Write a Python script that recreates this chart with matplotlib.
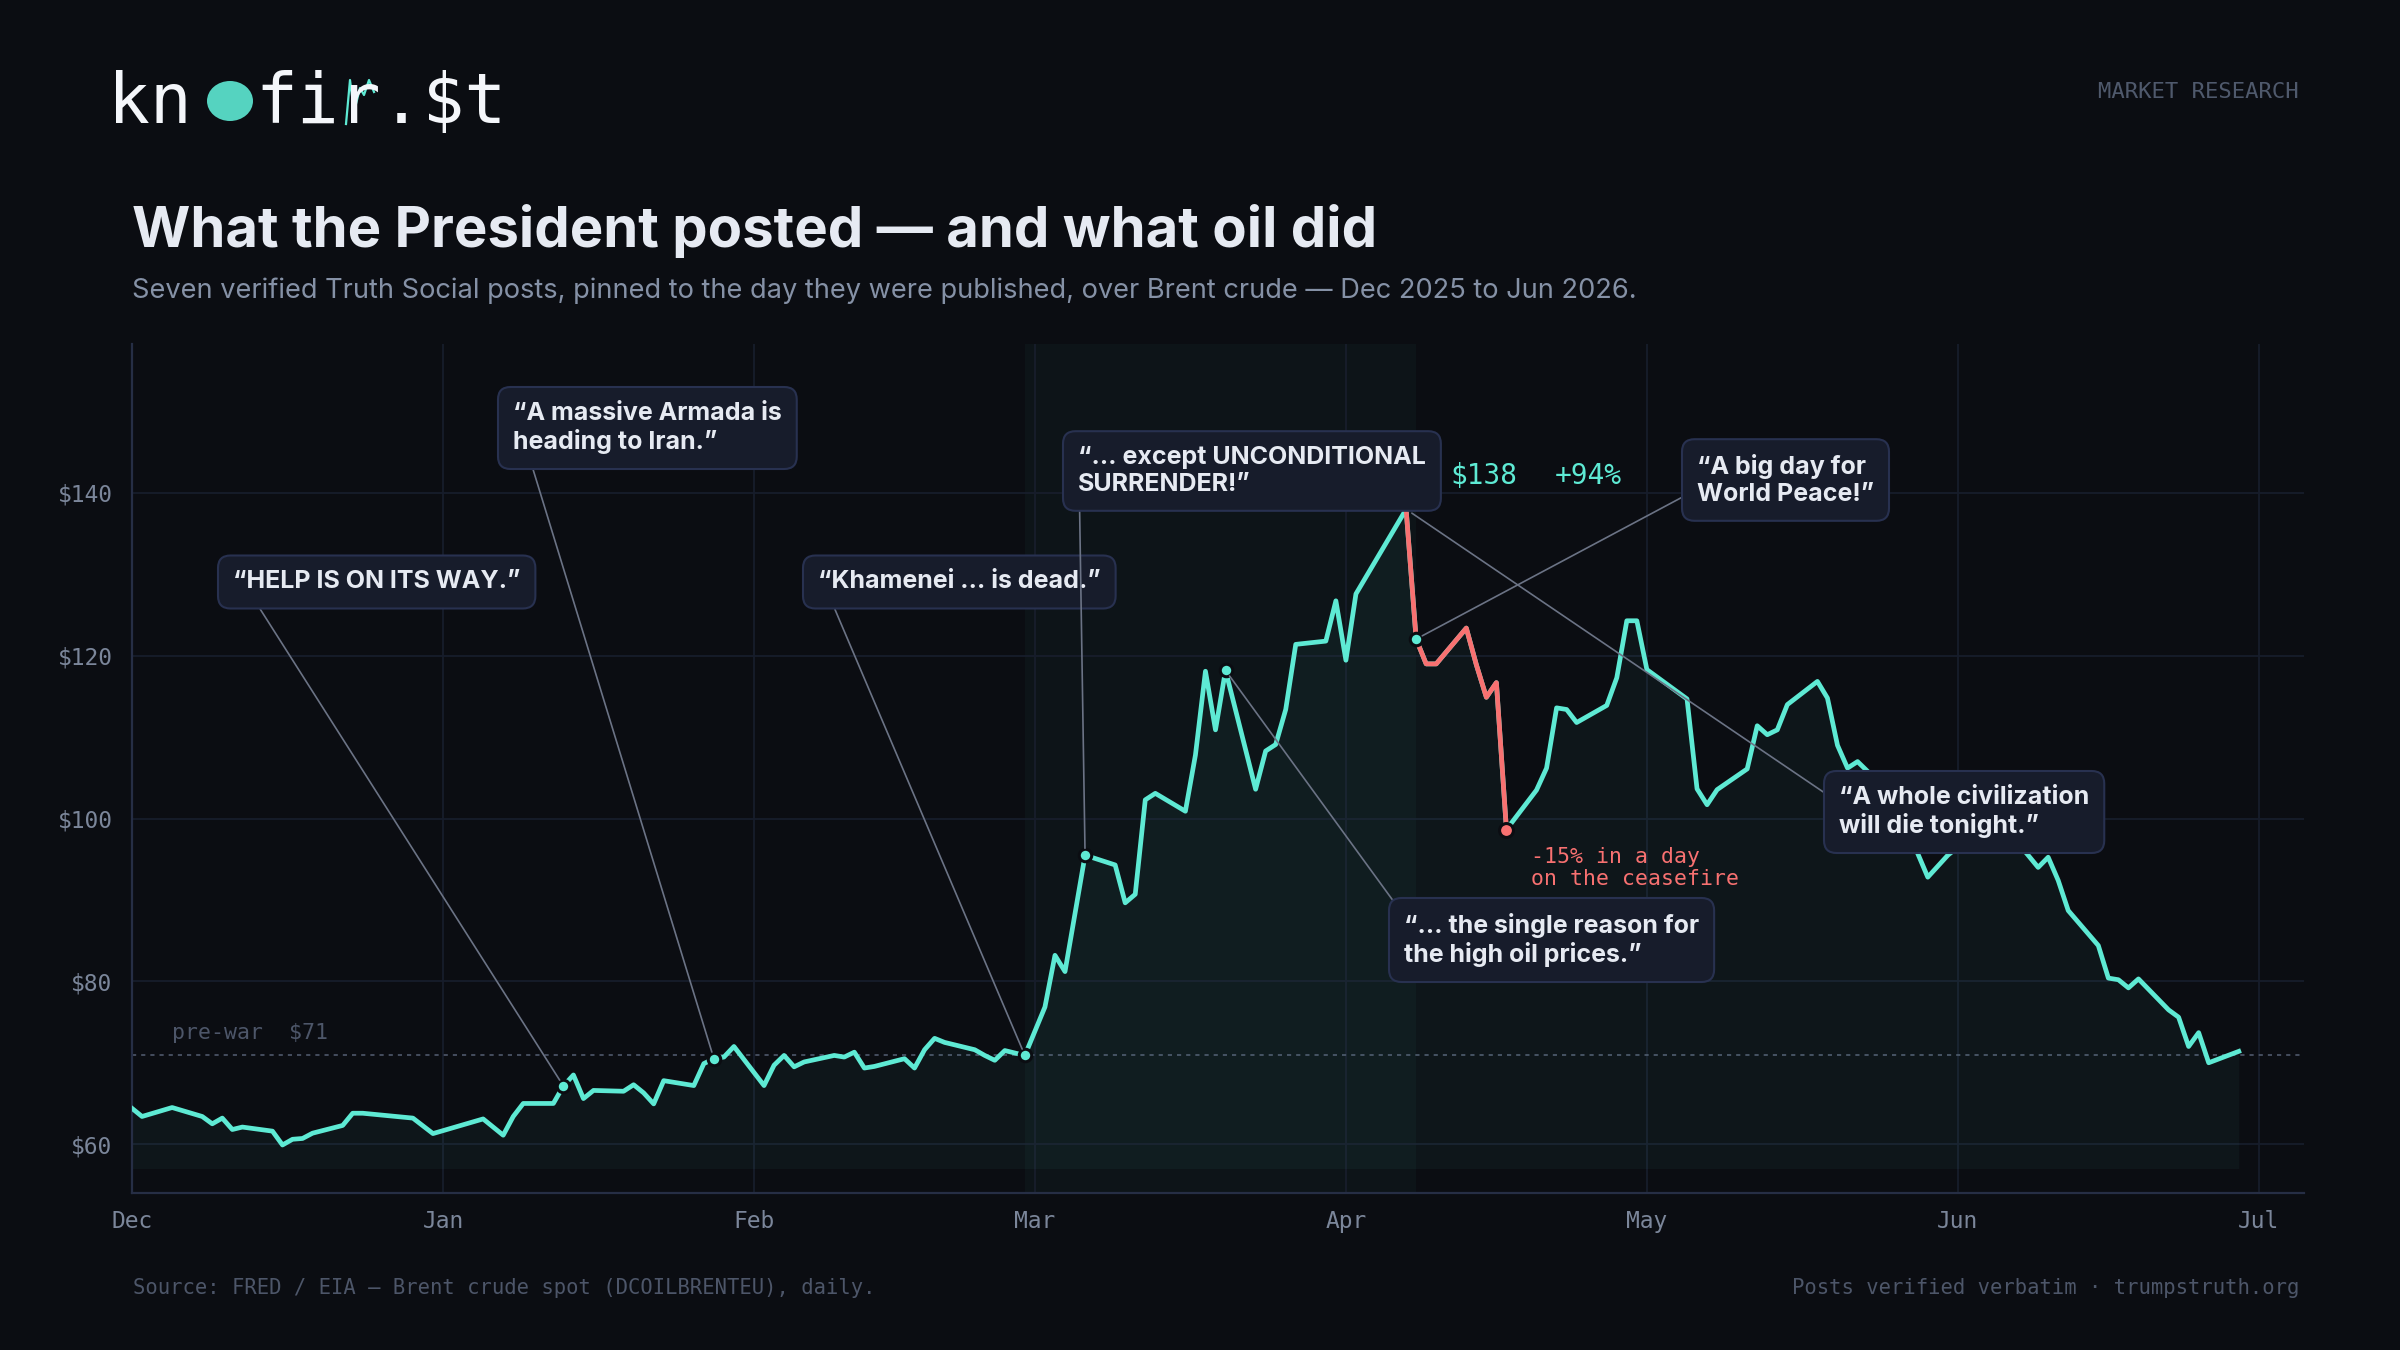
import matplotlib
matplotlib.use("Agg")
import matplotlib.pyplot as plt
from matplotlib.patches import Ellipse
import pandas as pd

# ---------------- data ----------------
start_date = "2025-12-01"
day_offsets = [0, 1, 4, 7, 8, 9, 10, 11, 14, 15, 16, 17, 18, 21, 22, 23, 28, 30, 35, 37,
               38, 39, 42, 43, 44, 45, 46, 49, 50, 51, 52, 53, 56, 57, 58, 59, 60, 63, 64, 65,
               66, 67, 70, 71, 72, 73, 74, 77, 78, 79, 80, 81, 84, 85, 86, 87, 88, 89, 91, 92,
               93, 95, 98, 99, 100, 101, 102, 105, 106, 107, 108, 109, 112, 113, 114, 115, 116, 119, 120, 121,
               122, 127, 128, 129, 130, 133, 134, 135, 136, 137, 140, 141, 142, 143, 144, 147, 148, 149, 150, 151,
               155, 156, 157, 158, 161, 162, 163, 164, 165, 168, 169, 170, 171, 172, 173, 176, 177, 178, 179, 181,
               184, 185, 186, 188, 189, 190, 191, 192, 193, 196, 197, 198, 199, 200, 203, 204, 205, 206, 207, 210]
brent = [64.4, 63.4, 64.5, 63.4, 62.5, 63.2, 61.8, 62.1, 61.6, 59.9, 60.6, 60.7, 61.35, 62.3, 63.8, 63.8, 63.2, 61.3, 63.1, 61.1,
         63.4, 65.0, 65.0, 67.15, 68.5, 65.6, 66.6, 66.5, 67.3, 66.3, 64.95, 67.8, 67.2, 69.9, 70.5, 70.7, 72.0, 67.2, 69.7, 70.9,
         69.5, 70.1, 70.9, 70.7, 71.3, 69.35, 69.55, 70.5, 69.35, 71.6, 73.0, 72.5, 71.6, 70.9, 70.3, 71.5, 71.2, 70.9, 76.85, 83.2,
         81.2, 95.5, 94.3, 89.65, 90.7, 102.3, 103.1, 100.9, 107.8, 118.1, 110.9, 118.2, 103.6, 108.3, 109.1, 113.4, 121.4, 121.8, 126.75, 119.45,
         127.6, 138.0, 122.05, 119.0, 119.0, 123.4, 118.9, 114.9, 116.7, 98.65, 103.5, 106.2, 113.6, 113.4, 111.8, 113.9, 117.3, 124.3, 124.3, 118.3,
         114.7, 103.65, 101.7, 103.55, 106.1, 111.4, 110.3, 110.9, 114.0, 116.85, 114.8, 109.0, 106.2, 107.0, 105.8, 101.5, 99.0, 95.7, 92.8, 95.5,
         98.5, 99.5, 98.0, 97.0, 95.5, 94.0, 95.25, 92.4, 88.7, 84.4, 80.4, 80.2, 79.2, 80.3, 76.5, 75.6, 72.0, 73.7, 70.0, 71.4]

prewar_price = 71
war_start, war_end = "2026-02-28", "2026-04-08"
crash_start, crash_end = "2026-04-07", "2026-04-17"
peak_label = "$138"
peak_change = "+94%"
crash_label = "-15% in a day\non the ceasefire"

post_dates = ["2026-01-13", "2026-01-28", "2026-02-28", "2026-03-06", "2026-03-20", "2026-04-08", "2026-04-07"]
post_texts = ["\u201cHELP IS ON ITS WAY.\u201d",
              "\u201cA massive Armada is\nheading to Iran.\u201d",
              "\u201cKhamenei \u2026 is dead.\u201d",
              "\u201c\u2026 except UNCONDITIONAL\nSURRENDER!\u201d",
              "\u201c\u2026 the single reason for\nthe high oil prices.\u201d",
              "\u201cA big day for\nWorld Peace!\u201d",
              "\u201cA whole civilization\nwill die tonight.\u201d"]
post_dot_shown = [True, True, True, True, True, True, False]

month_ticks = ["2025-12-01", "2026-01-01", "2026-02-01", "2026-03-01", "2026-04-01",
               "2026-05-01", "2026-06-01", "2026-07-01"]
month_labels = ["Dec", "Jan", "Feb", "Mar", "Apr", "May", "Jun", "Jul"]
price_ticks = [60, 80, 100, 120, 140]
price_labels = ["$60", "$80", "$100", "$120", "$140"]

# ---------------- styling ----------------
BG = "#0b0d12"
GRID = "#171d2b"
SPINE = "#262e45"
TEAL = "#5eead4"
RED = "#f87171"
BOX_FC = "#171c2b"
BOX_EC = "#283150"
WHITE = "#e6eaf2"
MUTED = "#8591a6"
TICK = "#7b869a"
DIM = "#4d5669"
LEADER = "#6b7385"
SANS = ["Inter", "DejaVu Sans"]
MONO = ["DejaVu Sans Mono"]

W, H = 2400, 1350
def fx(px):
    return px / W
def fy(py):
    return 1 - py / H

dates = pd.Timestamp(start_date) + pd.to_timedelta(day_offsets, unit="D")
series = pd.Series(brent, index=dates)

fig = plt.figure(figsize=(24, 13.5), dpi=100, facecolor=BG)
ax = fig.add_axes([fx(132), fy(1193), fx(2304) - fx(132), fy(344) - fy(1193)])
ax.set_facecolor(BG)

x0 = pd.Timestamp(start_date)
ax.set_xlim(x0, x0 + pd.Timedelta(days=216.5))
ax.set_ylim(54.0, 158.3)

ax.set_yticks(price_ticks)
ax.set_yticklabels(price_labels, family=MONO, fontsize=16.5, color=TICK)
ax.set_xticks(pd.to_datetime(month_ticks))
ax.set_xticklabels(month_labels, family=MONO, fontsize=16.5, color=TICK)
ax.tick_params(axis="both", length=0)
ax.tick_params(axis="y", pad=14)
ax.tick_params(axis="x", pad=12)
ax.grid(True, color=GRID, lw=1.3, zorder=0)
ax.set_axisbelow(True)
for s in ["top", "right"]:
    ax.spines[s].set_visible(False)
for s in ["left", "bottom"]:
    ax.spines[s].set_color(SPINE)
    ax.spines[s].set_linewidth(1.6)

# war shading
ax.axvspan(pd.Timestamp(war_start), pd.Timestamp(war_end), color=TEAL, alpha=0.035, lw=0, zorder=0.5)

# pre-war line
ax.axhline(prewar_price, color="#4f586b", lw=1.2, ls=(0, (2.5, 3)), zorder=1)
ax.text(x0 + pd.Timedelta(days=4), prewar_price + 2.6, "pre-war  $" + str(prewar_price),
        family=MONO, fontsize=15.5, color=DIM, va="center", ha="left")

# area + line
ax.fill_between(series.index, series.values, 57, color=TEAL, alpha=0.045, lw=0, zorder=1)
ax.plot(series.index, series.values, color=TEAL, lw=3.4, zorder=3)
crash = series[pd.Timestamp(crash_start):pd.Timestamp(crash_end)]
ax.plot(crash.index, crash.values, color=RED, lw=3.4, zorder=3.5)

# post dots
for d, shown in zip(post_dates, post_dot_shown):
    if shown:
        t = pd.Timestamp(d)
        ax.plot([t], [series[t]], "o", ms=9, mfc=TEAL, mec=BG, mew=2.2, zorder=5)
ax.plot([pd.Timestamp(crash_end)], [series[pd.Timestamp(crash_end)]], "o", ms=10, mfc=RED, mec=BG, mew=2.2, zorder=5)

# peak / crash labels
fig.text(fx(1450), fy(476), peak_label, family=MONO, fontsize=20, color=TEAL, va="center", ha="left")
fig.text(fx(1555), fy(476), peak_change, family=MONO, fontsize=20, color=TEAL, va="center", ha="left")
fig.text(fx(1531), fy(868), crash_label, family=MONO, fontsize=15.5, color=RED, va="center", ha="left",
         linespacing=1.1)

# callouts: text left x, center y (px), leader relpos (relative to text extent)
callout_layout = [(233, 582, (0.06, 0)), (513, 428, (0.057, 0)), (818, 582, (0.036, 0)),
                  (1078, 471, (0.004, 0)), (1404, 940, (0, 0.95)), (1697, 480, (0, 0.32)),
                  (1839, 812, (0, 0.68))]
for d, txt, (tx, ty, rp) in zip(post_dates, post_texts, callout_layout):
    t = pd.Timestamp(d)
    ax.annotate(txt, xy=(t, series[t]), xycoords="data",
                xytext=(fx(tx), fy(ty)), textcoords="figure fraction",
                ha="left", va="center", family=SANS, fontsize=18, fontweight="bold",
                color=WHITE, linespacing=1.2, zorder=10, annotation_clip=False,
                bbox=dict(boxstyle="round,pad=0.6,rounding_size=0.5", fc=BOX_FC, ec=BOX_EC, lw=1.5),
                arrowprops=dict(arrowstyle="-", color=LEADER, lw=1.2, relpos=rp,
                                shrinkA=0, shrinkB=5))

# ---------------- header ----------------
fig.text(fx(108), fy(123), "kn", family=MONO, fontsize=50, color="#f4f6fa", ha="left", va="baseline")
fig.text(fx(255), fy(123), "fir.$t", family=MONO, fontsize=50, color="#f4f6fa", ha="left", va="baseline")
fig.patches.append(Ellipse((fx(230), fy(101)), fx(46), 40 / H, transform=fig.transFigure,
                           fc=TEAL, ec="none", alpha=0.9))
fig.lines.append(plt.Line2D([fx(346), fx(350), fx(354), fx(360), fx(364), fx(369), fx(374)],
                            [fy(124), fy(80), fy(112), fy(88), fy(95), fy(80), fy(92)],
                            transform=fig.transFigure, color=TEAL, lw=1.6))

fig.text(fx(2299), fy(92), "MARKET RESEARCH", family=MONO, fontsize=16, color="#4f596c",
         ha="right", va="center")
fig.text(fx(132), fy(231), "What the President posted \u2014 and what oil did", family=SANS,
         fontsize=40.5, fontweight="bold", color=WHITE, ha="left", va="center")
fig.text(fx(132), fy(291), "Seven verified Truth Social posts, pinned to the day they were published, over Brent crude \u2014 Dec 2025 to Jun 2026.",
         family=SANS, fontsize=19.6, color=MUTED, ha="left", va="center")

fig.text(fx(133), fy(1288), "Source: FRED / EIA \u2014 Brent crude spot (DCOILBRENTEU), daily.",
         family=MONO, fontsize=14.8, color=DIM, ha="left", va="center")
fig.text(fx(2299), fy(1288), "Posts verified verbatim \u00b7 trumpstruth.org",
         family=MONO, fontsize=14.8, color=DIM, ha="right", va="center")

fig.savefig("out.png", dpi=100, facecolor=BG)
